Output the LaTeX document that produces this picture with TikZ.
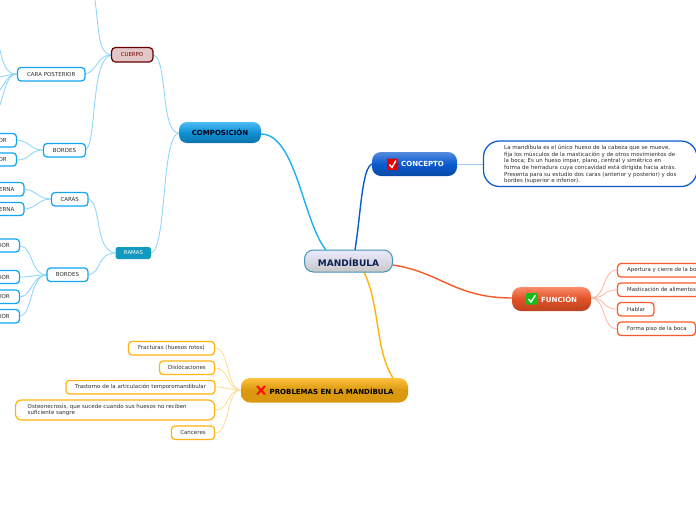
\documentclass[tikz,border=0pt]{standalone}
\usepackage{fontspec}
\setmainfont{DejaVu Sans}
\usetikzlibrary{calc}
\definecolor{cblue}{HTML}{12A5F2}
\definecolor{cbluem}{HTML}{1CB0EE}
\definecolor{cbluel}{HTML}{8CD6FA}
\definecolor{corg}{HTML}{FA5A2A}
\definecolor{corgl}{HTML}{FDB9A4}
\definecolor{cyel}{HTML}{FFB30F}
\definecolor{cyell}{HTML}{FEDD96}
\definecolor{cdb}{HTML}{0A5BD0}
\definecolor{txt}{HTML}{2E2E2E}
\definecolor{cramas}{HTML}{1199BF}
\definecolor{cnavy}{HTML}{0D1F50}
\definecolor{cconc}{HTML}{A6CBF7}
\tikzset{
 leafbox/.style={draw=#1,line width=1.25pt,rounded corners=3.5pt,fill=white,inner sep=0pt},
 leaftxt/.style={font=\fontsize{5.5}{6.5}\selectfont,text=txt,inner sep=0pt},
 conn/.style={draw=#1,line width=.85pt,line cap=round},
 main/.style={draw=#1,line width=1.4pt,line cap=round},
 headtxt/.style={font=\bfseries\fontsize{7}{8}\selectfont,inner sep=0pt},
}
\newcommand{\bx}[7]{% name, x1,y1,x2,y2,color,text
 \draw[leafbox=#6] (#2,#3) rectangle (#4,#5);
 \node[leaftxt] (#1) at ({(#2+#4)/2},{(#3+#5)/2}) {#7};}
\newcommand{\bxl}[7]{% cut by the left edge
 \draw[leafbox=#6] (#2,#3) rectangle (#4,#5);
 \node[leaftxt,anchor=east] (#1) at ({#4-9.5},{(#3+#5)/2}) {#7};}
\newcommand{\bxr}[7]{% text left-anchored
 \draw[leafbox=#6] (#2,#3) rectangle (#4,#5);
 \node[leaftxt,anchor=west,font=\fontsize{5.4}{6.5}\selectfont] (#1) at ({#2+9.5},{(#3+#5)/2}) {#7};}
\begin{document}
\begin{tikzpicture}[x=1pt,y=-1pt]
\useasboundingbox (0,0) rectangle (696,520);
\clip (0,0) rectangle (696,520);
\fill[white] (0,0) rectangle (696,520);
% main connectors
\draw[main=cbluem] (326,250) .. controls (303,222) and (296,134) .. (261,134);
\draw[main=cdb] (355,250) .. controls (361,212) and (362,168) .. (372,164);
\draw[main=corg] (393,265) .. controls (440,272) and (455,298) .. (512,298);
\draw[main=cyel] (364,272) .. controls (380,305) and (375,350) .. (393,378);
% second level
\draw[conn=cbluel] (153,55) .. controls (168,57) and (160,133) .. (179,133);
\draw[conn=cbluel] (151,253) .. controls (167,250) and (161,135) .. (179,133);
\draw[conn=cbluel] (95,0) .. controls (99,30) and (98,53) .. (111,55);
\draw[conn=cbluel] (85,74) .. controls (97,72) and (97,55) .. (111,55);
\draw[conn=cbluel] (85,150) .. controls (97,148) and (90,60) .. (111,55);
\draw[conn=cbluel] (88,199) .. controls (102,202) and (94,250) .. (115,253);
\draw[conn=cbluel] (88,275) .. controls (102,273) and (97,253) .. (115,253);
% leaf connectors on the left
\draw[conn=cbluel] (0,50) .. controls (3,62) and (5,74) .. (17,74);
\draw[conn=cbluel] (0,77) .. controls (6,76) and (10,74) .. (17,74);
\draw[conn=cbluel] (0,90) .. controls (6,82) and (8,74) .. (17,74);
\draw[conn=cbluel] (0,105) .. controls (5,90) and (7,74) .. (17,74);
\draw[conn=cbluel] (17,140) .. controls (30,141) and (30,150) .. (43,150);
\draw[conn=cbluel] (17,160) .. controls (30,160) and (30,150) .. (43,150);
\draw[conn=cbluel] (24,189) .. controls (36,190) and (38,199) .. (51,199);
\draw[conn=cbluel] (24,209) .. controls (36,209) and (38,199) .. (51,199);
\draw[conn=cbluel] (20,246) .. controls (34,247) and (30,275) .. (47,275);
\draw[conn=cbluel] (20,277) .. controls (30,277) and (36,275) .. (47,275);
\draw[conn=cbluel] (20,297) .. controls (32,296) and (32,275) .. (47,275);
\draw[conn=cbluel] (20,316) .. controls (32,316) and (30,275) .. (47,275);
% concepto to text
\draw[draw=cconc,line width=1pt] (457,164) -- (483,164);
% function leaves
\foreach \yy in {270,290,309,329}{\draw[conn=corgl] (591,298) .. controls (606,298) and (602,\yy) .. (617,\yy);}
% problem leaves
\foreach \yy in {348,368,387,410,433}{\draw[conn=cyell] (241,390) .. controls (226,390) and (230,\yy) .. (215,\yy);}
% central node
\draw[draw=cbluem!70!black!80,line width=1pt,rounded corners=9pt,top color=white!92!blue,bottom color=black!22] (304.5,250) rectangle (392.5,272);
\node[font=\bfseries\fontsize{9}{10}\selectfont,text=cnavy,inner sep=0pt] (mand) at (348.5,262) {MANDÍBULA};
% COMPOSICION
\draw[draw=none,rounded corners=8pt,top color=cblue!75!white,bottom color=cblue!70!black,middle color=cblue!88!black] (179,122) rectangle (261,143);
\node[headtxt,text=black!90!blue] (comp) at (220,132.5) {COM\raisebox{-.5pt}{POSICIÓN}};
% CONCEPTO
\draw[draw=none,rounded corners=9pt,top color=cdb!70!white,bottom color=cdb!80!black,middle color=cdb] (372,152) rectangle (457,176);
\fill[red!90!black,rounded corners=1pt] (387,158.5) rectangle (398,170);
\draw[white,line width=1.4pt] (389.5,164.5) -- (392,167.5) -- (396,160.5);
\node[headtxt,text=white,anchor=west] (conc) at (401,164.3) {CONCEPTO};
% text box
\draw[draw=cdb,line width=1.25pt,rounded corners=16pt,fill=white] (483.5,141) rectangle (697,186.5);
\node[font=\fontsize{5.5}{6.6}\selectfont,text=txt,inner sep=0pt,anchor=north west,align=left] (ctext) at (504,145.1) {La mandíbula es el único hueso de la cabeza que se mueve,\\fija los músculos de la masticación y de otros movimientos de\\la boca; Es un hueso impar, plano, central y simétrico en\\forma de herradura cuya concavidad está dirigida hacia atrás.\\Presenta para su estudio dos caras (anterior y posterior) y dos\\bordes (superior e inferior).};
% FUNCION
\draw[draw=none,rounded corners=9pt,top color=corg!70!white,bottom color=corg!75!black,middle color=corg!90!black] (512,287) rectangle (591,311);
\fill[green!70!black!90!white,rounded corners=1pt] (526,293) rectangle (537.5,304.5);
\draw[white,line width=1.4pt] (528.5,299) -- (531,302) -- (535.5,295);
\node[headtxt,text=white,anchor=west] (func) at (541,299.3) {FUNCIÓN};
% PROBLEMAS
\draw[draw=none,rounded corners=9pt,top color=cyel!80!white,bottom color=cyel!85!black,middle color=cyel!85!black] (241,378) rectangle (408,402.5);
\draw[red!90!orange,line width=2pt] (257,386) -- (265,394.5) (265,386) -- (257,394.5);
\node[headtxt,text=black,anchor=west] (prob) at (269.5,391) {PROBLEMAS EN LA MANDÍBULA};
% level 2 nodes
\draw[draw=red!40!black,line width=1.2pt,rounded corners=4pt,fill=red!50!black!22!white] (111.5,47.5) rectangle (153,62);
\node[font=\fontsize{5.4}{6}\selectfont,text=red!45!black,inner sep=0pt] (cuerpo) at (132,55) {CUERPO};
\fill[cramas,rounded corners=2.5pt] (115.5,247) rectangle (151,259);
\node[font=\fontsize{5.4}{6}\selectfont,text=white,inner sep=0pt] (ramas) at (133.5,253) {RAMAS};
% blue boxes
\bx{cpos}{17.5}{67.5}{85}{81}{cblue}{CARA POSTERIOR}
\bx{bord}{43.5}{143.5}{85.5}{157}{cblue}{BORDES}
\bxl{or1}{-20}{133.5}{16.5}{147}{cblue}{OR}
\bxl{or2}{-20}{153}{16.5}{166}{cblue}{OR}
\bx{car}{51.5}{192.5}{88}{206}{cblue}{CARAS}
\bxl{er1}{-20}{182.5}{24}{196}{cblue}{ERNA}
\bxl{er2}{-20}{202.5}{24}{215.5}{cblue}{ERNA}
\bx{bor2}{47}{268}{88}{281.5}{cblue}{BORDES}
\bxl{io1}{-20}{239}{19.5}{252}{cblue}{IOR}
\bxl{io2}{-20}{270.5}{19.5}{283.5}{cblue}{IOR}
\bxl{io3}{-20}{290}{19.5}{303.5}{cblue}{IOR}
\bxl{io4}{-20}{309.5}{19.5}{323}{cblue}{IOR}
% orange
\bxr{f1}{617.5}{263.5}{720}{277}{corg}{Apertura y cierre de la bo}
\bxr{f2}{617.5}{283}{720}{296.5}{corg}{Masticación de alimentos}
\bxr{f3}{617.5}{302.5}{654}{316}{corg}{Hablar}
\bxr{f4}{617.5}{322}{695.5}{335.5}{corg}{Forma piso de la boca}
% yellow
\bx{p1}{128.5}{341.5}{214.5}{355}{cyel}{Fracturas (huesos rotos)}
\bx{p2}{159.5}{361}{214.5}{374.5}{cyel}{Dislocaciones}
\bx{p3}{66}{380.5}{215}{394}{cyel}{Trastorno de la articulación temporomandibular}
\draw[leafbox=cyel,rounded corners=6pt] (15.5,400) rectangle (214.5,420);
\node[leaftxt,anchor=west,align=left] (p4) at (27.5,410) {Osteonecrosis, que sucede cuando sus huesos no reciben\\suficiente sangre};
\bx{p5}{171.5}{426}{214.5}{439.5}{cyel}{Canceres}
\end{tikzpicture}
\end{document}
